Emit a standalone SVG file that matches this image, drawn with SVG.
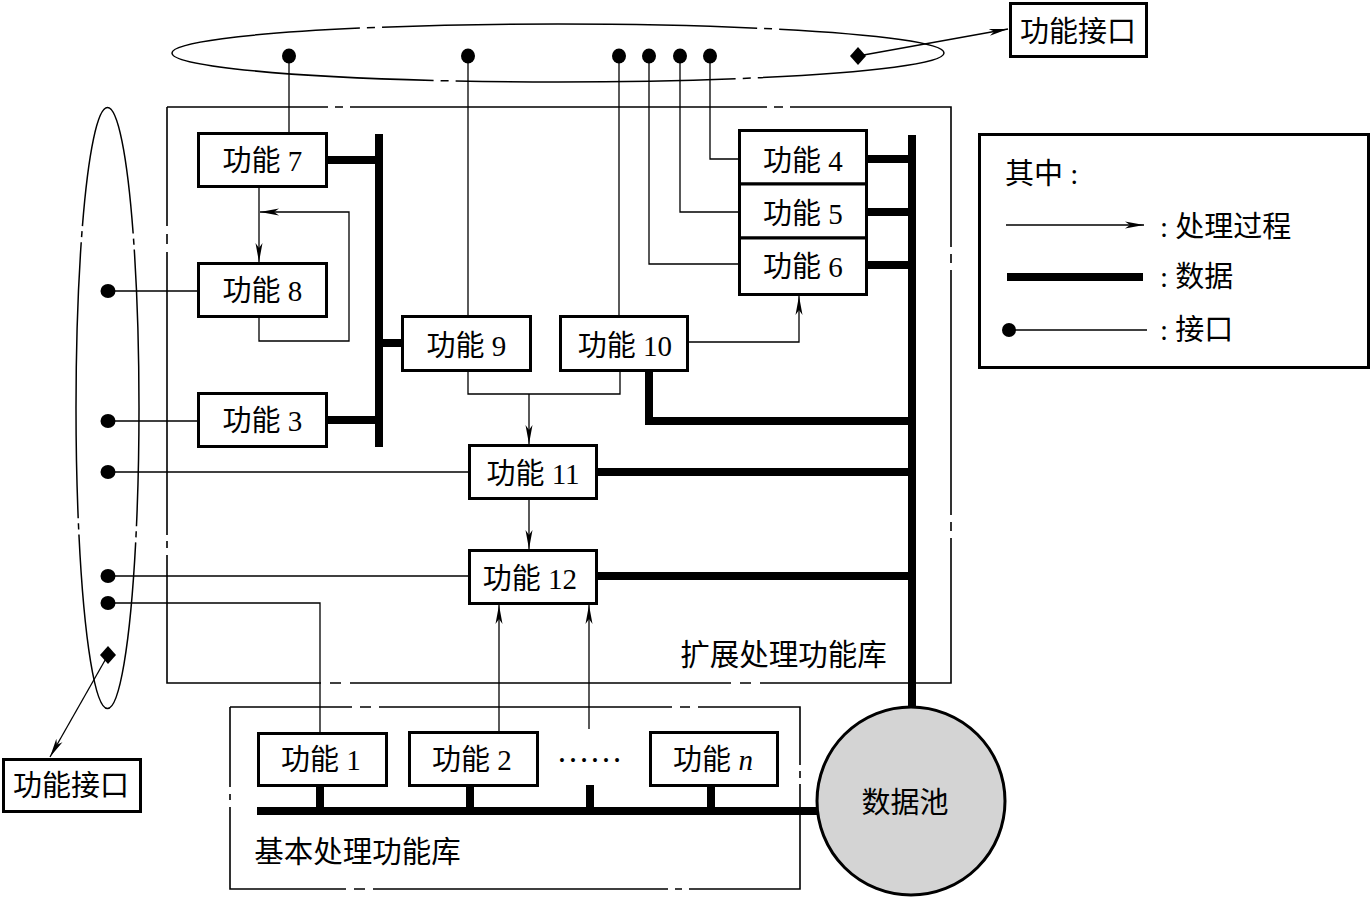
<svg xmlns="http://www.w3.org/2000/svg" width="1372" height="897" viewBox="0 0 1372 897">
<style>
.box{fill:#fff;stroke:#000;stroke-width:3}
.thin{fill:none;stroke:#000;stroke-width:1.3}
.data{fill:none;stroke:#000;stroke-width:8;stroke-linecap:butt;stroke-linejoin:miter}
.lib{fill:none;stroke:#000;stroke-width:1.6}
.ell{fill:none;stroke:#000;stroke-width:1.5}
.dot{fill:#000}
text{font-family:"Liberation Serif","Noto Sans CJK SC",serif;font-size:29px;fill:#000}
.lbl{text-anchor:middle}
</style>
<defs>
<marker id="ah" markerUnits="userSpaceOnUse" markerWidth="19" markerHeight="10" viewBox="0 0 19 10" refX="19" refY="5" orient="auto">
<path d="M0,1.5 L19,5 L0,8.5 L5,5 Z" fill="#000"/>
</marker>
</defs>
<rect width="1372" height="897" fill="#fff"/>

<!-- library frames -->
<g id="ext-lib">
<path class="lib" d="M167,107 H328 M335,107 H343 M350,107 H767 M774,107 H783 M790,107 H951 V247 M951,254 V263 M951,270 V515 M951,522 V531 M951,538 V683 H760 M751,683 H740 M731,683 H350 M341,683 H330 M321,683 H167 V555 M167,548 V541 M167,535 V252 M167,244 V234 M167,226 V107"/>
<text class="lbl" x="783.5" y="665" style="font-size:29.5px">扩展处理功能库</text>
</g>
<g id="basic-lib">
<path class="lib" d="M230,707 H352 M360,707 H371 M379,707 H672 M680,707 H690 M698,707 H800 V765 M800,771 V778 M800,784 V889 H689 M682,889 H675 M668,889 H373 M365,889 H354 M346,889 H230 V807 M230,800 V794 M230,787 V707"/>
<text class="lbl" x="357.5" y="862" style="font-size:29.5px">基本处理功能库</text>
</g>

<!-- connectors -->
<g id="connectors">
<!-- interface lines -->
<path class="thin" d="M289,56 V132"/>
<path class="thin" d="M468,56 V315"/>
<path class="thin" d="M619,56 V315"/>
<path class="thin" d="M649,56 V264 H738"/>
<path class="thin" d="M680,56 V212 H738"/>
<path class="thin" d="M710,56 V159 H738"/>
<path class="thin" d="M108,291 H197"/>
<path class="thin" d="M108,421 H197"/>
<path class="thin" d="M108,472 H468"/>
<path class="thin" d="M108,576 H468"/>
<path class="thin" d="M108,603 H320 V732"/>
<!-- process flows -->
<path class="thin" d="M259,188 V262" marker-end="url(#ah)"/>
<path class="thin" d="M259,318 V341 H349 V212 H260" marker-end="url(#ah)"/>
<path class="thin" d="M468,372 V394 H620 V372"/>
<path class="thin" d="M529,394 V444" marker-end="url(#ah)"/>
<path class="thin" d="M529,500 V549" marker-end="url(#ah)"/>
<path class="thin" d="M689,342 H799 V296" marker-end="url(#ah)"/>
<path class="thin" d="M499,731 V605" marker-end="url(#ah)"/>
<path class="thin" d="M589,729 V605" marker-end="url(#ah)"/>
<path class="thin" d="M858,56 L1008,29" marker-end="url(#ah)"/>
<path class="thin" d="M108,655 L50,757" marker-end="url(#ah)"/>
<!-- data buses -->
<path class="data" d="M379,134 V447"/>
<path class="data" d="M328,160 H379"/>
<path class="data" d="M328,420 H379"/>
<path class="data" d="M379,343 H401"/>
<path class="data" d="M912,135 V710"/>
<path class="data" d="M868,159 H912"/>
<path class="data" d="M868,212 H912"/>
<path class="data" d="M868,265 H912"/>
<path class="data" d="M649,372 V421 H912"/>
<path class="data" d="M598,472 H912"/>
<path class="data" d="M598,576 H912"/>
<path class="data" d="M257,811 H820"/>
<path class="data" d="M320,787 V811"/>
<path class="data" d="M470,787 V811"/>
<path class="data" d="M590,785 V811"/>
<path class="data" d="M711,787 V811"/>
</g>

<!-- interface ellipses -->
<g id="iface-top">
<ellipse class="ell" cx="558" cy="53" rx="386" ry="29" stroke-dasharray="190 7 8 7 280 7 8 7 457 7 8 7 375 7 8 7 170"/>
<ellipse class="dot" cx="289" cy="56" rx="7" ry="7.5"/>
<ellipse class="dot" cx="468" cy="56" rx="7" ry="7.5"/>
<ellipse class="dot" cx="619" cy="56" rx="7" ry="7.5"/>
<ellipse class="dot" cx="649" cy="56" rx="7" ry="7.5"/>
<ellipse class="dot" cx="680" cy="56" rx="7" ry="7.5"/>
<ellipse class="dot" cx="710" cy="56" rx="7" ry="7.5"/>
<path class="dot" d="M858,47 L866,56 L858,65 L850,56 Z"/>
</g>
<g id="iface-left">
<ellipse class="ell" cx="107.5" cy="408" rx="31.5" ry="300.5" stroke-dasharray="118 5 6 5 351 5 6 5 276 5 6 5 255 5 6 5 160"/>
<ellipse class="dot" cx="108" cy="291" rx="7.5" ry="7"/>
<ellipse class="dot" cx="108" cy="421" rx="7.5" ry="7"/>
<ellipse class="dot" cx="108" cy="472" rx="7.5" ry="7"/>
<ellipse class="dot" cx="108" cy="576" rx="7.5" ry="7"/>
<ellipse class="dot" cx="108" cy="603" rx="7.5" ry="7"/>
<path class="dot" d="M108,646 L116,655 L108,664 L100,655 Z"/>
</g>

<!-- function nodes -->
<g id="f7"><rect class="box" x="198.5" y="133.5" width="128" height="53"/><text class="lbl" x="262.5" y="171">功能 7</text></g>
<g id="f8"><rect class="box" x="198.5" y="263.5" width="128" height="53"/><text class="lbl" x="262.5" y="301">功能 8</text></g>
<g id="f3"><rect class="box" x="198.5" y="393.5" width="128" height="53"/><text class="lbl" x="262.5" y="431">功能 3</text></g>
<g id="f9"><rect class="box" x="402.5" y="316.5" width="128" height="54"/><text class="lbl" x="466.5" y="356">功能 9</text></g>
<g id="f10"><rect class="box" x="560.5" y="316.5" width="127" height="54"/><text class="lbl" x="625" y="356">功能 10</text></g>
<g id="f4"><rect class="box" x="739.5" y="130.5" width="127" height="53.5"/><text class="lbl" x="803" y="171">功能 4</text></g>
<g id="f5"><rect class="box" x="739.5" y="184" width="127" height="54"/><text class="lbl" x="803" y="224">功能 5</text></g>
<g id="f6"><rect class="box" x="739.5" y="238" width="127" height="56.5"/><text class="lbl" x="803" y="277">功能 6</text></g>
<g id="f11"><rect class="box" x="469.5" y="445.5" width="127" height="53"/><text class="lbl" x="533" y="484">功能 11</text></g>
<g id="f12"><rect class="box" x="469.5" y="550.5" width="127" height="53"/><text class="lbl" x="530" y="589">功能 12</text></g>
<g id="f1"><rect class="box" x="258.5" y="733.5" width="128" height="52"/><text class="lbl" x="321" y="770">功能 1</text></g>
<g id="f2"><rect class="box" x="409.5" y="732.5" width="128" height="53"/><text class="lbl" x="472" y="770">功能 2</text></g>
<g id="fdots"><text class="lbl" x="589.5" y="762" style="font-size:33px">……</text></g>
<g id="fn"><rect class="box" x="650.5" y="732.5" width="127" height="53"/><text class="lbl" x="713" y="770">功能 <tspan font-style="italic">n</tspan></text></g>

<g id="iface-out-top"><rect class="box" x="1010.5" y="3.5" width="136" height="53"/><text class="lbl" x="1078" y="42">功能接口</text></g>
<g id="iface-out-left"><rect class="box" x="3.5" y="759.5" width="137" height="52"/><text class="lbl" x="71" y="796">功能接口</text></g>

<g id="datapool"><circle cx="911" cy="801" r="94" fill="#d4d4d4" stroke="#000" stroke-width="3"/><text class="lbl" x="905" y="813">数据池</text></g>

<g id="legend">
<rect class="box" x="979.5" y="134.5" width="389" height="233"/>
<text x="1005" y="184">其中 :</text>
<path class="thin" d="M1006,225 H1144" marker-end="url(#ah)"/>
<text x="1160" y="237">: 处理过程</text>
<path class="data" d="M1007,277 H1143"/>
<text x="1160" y="287">: 数据</text>
<circle class="dot" cx="1009" cy="330" r="7"/>
<path class="thin" d="M1009,330 H1147"/>
<text x="1160" y="340">: 接口</text>
</g>
</svg>
